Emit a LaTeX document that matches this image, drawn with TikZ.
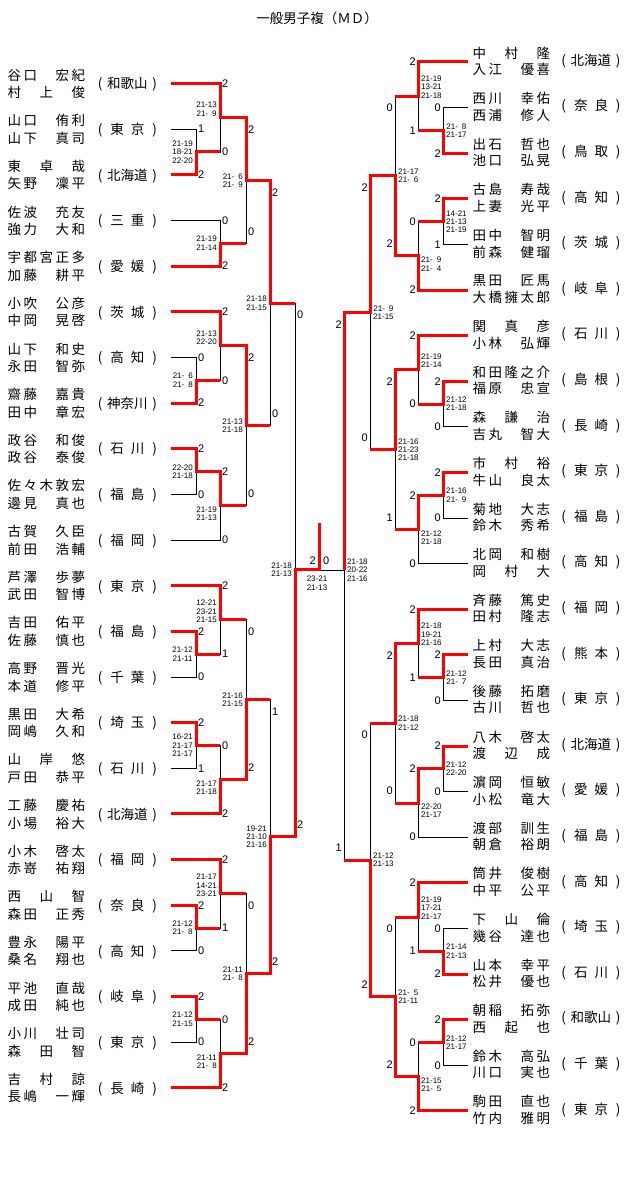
\documentclass[tikz,border=0pt]{standalone}
\usepackage{fontspec}
\newfontfamily\namefont[LetterSpace=18.5]{Noto Sans CJK JP}
\newfontfamily\kanjifont{Noto Sans CJK JP}
\newfontfamily\numfont{Liberation Sans}
\usetikzlibrary{calc}
\newcommand\prefgap{\hspace{7pt}}

\tikzstyle{win} = [draw, red, line width=3pt]
\tikzstyle{lose} = [draw, black, line width=0.9pt]
\tikzstyle{player} = [anchor=west, inner sep=0pt, font=\namefont\fontsize{13.5}{14}\selectfont]
\tikzstyle{pref} = [inner sep=0pt, font=\kanjifont\fontsize{13.5}{14}\selectfont]
\tikzstyle{digit} = [inner sep=0pt, font=\numfont\fontsize{11}{11}\selectfont]
\tikzstyle{games} = [inner sep=0pt, align=center, font=\numfont\fontsize{8}{8.3}\selectfont]

\def\leftplayers{谷口　宏紀/村　上　俊/和歌山, 山口　侑利/山下　真司/東\prefgap 京, 東　卓　哉/矢野　凜平/北海道, 佐波　充友/強力　大和/三\prefgap 重, 宇都宮正多/加藤　耕平/愛\prefgap 媛, 小吹　公彦/中岡　晃啓/茨\prefgap 城, 山下　和史/永田　智弥/高\prefgap 知, 齋藤　嘉貴/田中　章宏/神奈川, 政谷　和俊/政谷　泰俊/石\prefgap 川, 佐々木敦宏/邊見　真也/福\prefgap 島, 古賀　久臣/前田　浩輔/福\prefgap 岡, 芦澤　歩夢/武田　智博/東\prefgap 京, 吉田　佑平/佐藤　慎也/福\prefgap 島, 高野　晋光/本道　修平/千\prefgap 葉, 黒田　大希/岡嶋　久和/埼\prefgap 玉, 山　岸　悠/戸田　恭平/石\prefgap 川, 工藤　慶祐/小場　裕大/北海道, 小木　啓太/赤嵜　祐翔/福\prefgap 岡, 西　山　智/森田　正秀/奈\prefgap 良, 豊永　陽平/桑名　翔也/高\prefgap 知, 平池　直哉/成田　純也/岐\prefgap 阜, 小川　壮司/森　田　智/東\prefgap 京, 吉　村　諒/長嶋　一輝/長\prefgap 崎}
\def\rightplayers{中　村　隆/入江　優喜/北海道, 西川　幸佑/西浦　修人/奈\prefgap 良, 出石　哲也/池口　弘晃/鳥\prefgap 取, 古島　寿哉/上妻　光平/高\prefgap 知, 田中　智明/前森　健瑠/茨\prefgap 城, 黒田　匠馬/大橋擁太郎/岐\prefgap 阜, 関　真　彦/小林　弘輝/石\prefgap 川, 和田隆之介/福原　忠宣/島\prefgap 根, 森　謙　治/吉丸　智大/長\prefgap 崎, 市　村　裕/牛山　良太/東\prefgap 京, 菊地　大志/鈴木　秀希/福\prefgap 島, 北岡　和樹/岡　村　大/高\prefgap 知, 斉藤　篤史/田村　隆志/福\prefgap 岡, 上村　大志/長田　真治/熊\prefgap 本, 後藤　拓磨/古川　哲也/東\prefgap 京, 八木　啓太/渡　辺　成/北海道, 濵岡　恒敏/小松　竜大/愛\prefgap 媛, 渡部　訓生/朝倉　裕朗/福\prefgap 島, 筒井　俊樹/中平　公平/高\prefgap 知, 下　山　倫/幾谷　達也/埼\prefgap 玉, 山本　幸平/松井　優也/石\prefgap 川, 朝稲　拓弥/西　起　也/和歌山, 鈴木　高弘/川口　実也/千\prefgap 葉, 駒田　直也/竹内　雅明/東\prefgap 京}

% match / column / top / bottom / top score / bottom score / next match / label shift / digit shift / games
\def\leftmatches{A1/lc1/L1/L2/1/2/A2/0/0/{21-19\\18-21\\22-20}, A2/lc2/L0/A1/2/0/AB/-8.5/0/{21-13\\21-\enspace9}, B1/lc2/L3/L4/0/2/AB/0/0/{21-19\\21-14}, AB/lc3/A2/B1/2/0/Q1/0/12/{21-\enspace6\\21-\enspace9}, C1/lc1/L6/L7/0/2/C2/0/0/{21-\enspace6\\21-\enspace8}, C2/lc2/L5/C1/2/0/CD/-8.5/0/{21-13\\22-20}, D1/lc1/L8/L9/2/0/D2/0/0/{22-20\\21-18}, D2/lc2/D1/L10/2/0/CD/8/0/{21-19\\21-13}, CD/lc3/C2/D2/2/0/Q1/0/12/{21-13\\21-18}, Q1/lc4/AB/CD/2/0/SL/0/12/{21-18\\21-15}, E1/lc1/L12/L13/2/0/E2/0/0/{21-12\\21-11}, E2/lc2/L11/E1/2/1/EF/-8.5/0/{12-21\\23-21\\21-15}, F1/lc1/L14/L15/2/1/F2/0/0/{16-21\\21-17\\21-17}, F2/lc2/F1/L16/0/2/EF/8/0/{21-17\\21-18}, EF/lc3/E2/F2/0/2/Q2/0/12/{21-16\\21-15}, G1/lc1/L18/L19/2/0/G2/0/0/{21-12\\21-\enspace8}, G2/lc2/L17/G1/2/1/GH/-8.5/0/{21-17\\14-21\\23-21}, H1/lc1/L20/L21/2/0/H2/0/0/{21-12\\21-15}, H2/lc2/H1/L22/0/2/GH/8/0/{21-11\\21-\enspace8}, GH/lc3/G2/H2/0/2/Q2/0/12/{21-11\\21-\enspace8}, Q2/lc4/EF/GH/1/2/SL/0/12/{19-21\\21-10\\21-16}, SL/lc5/Q1/Q2/0/2/F/0/12/{21-18\\21-13}}
\def\rightmatches{a1/rc1/R1/R2/0/2/a2/0/0/{21-\enspace8\\21-17}, a2/rc2/R0/a1/2/1/ab/-9/0/{21-19\\13-21\\21-18}, b1/rc1/R3/R4/2/1/b2/0/0/{14-21\\21-13\\21-19}, b2/rc2/b1/R5/0/2/ab/8.5/0/{21-\enspace9\\21-\enspace4}, ab/rc3/a2/b2/0/2/q1/0/12/{21-17\\21-\enspace6}, c1/rc1/R7/R8/2/0/c2/0/0/{21-12\\21-18}, c2/rc2/R6/c1/2/0/cd/-9/0/{21-19\\21-14}, d1/rc1/R9/R10/2/0/d2/0/0/{21-16\\21-\enspace9}, d2/rc2/d1/R11/2/0/cd/8/0/{21-12\\21-18}, cd/rc3/c2/d2/2/1/q1/0/12/{21-16\\21-23\\21-18}, q1/rc4/ab/cd/2/0/SR/0/12/{21-\enspace9\\21-15}, e1/rc1/R13/R14/2/0/e2/0/0/{21-12\\21-\enspace7}, e2/rc2/R12/e1/2/1/ef/-9/0/{21-18\\19-21\\21-16}, f1/rc1/R15/R16/2/0/f2/0/0/{21-12\\22-20}, f2/rc2/f1/R17/2/0/ef/8/0/{22-20\\21-17}, ef/rc3/e2/f2/2/0/q2/0/12/{21-18\\21-12}, g1/rc1/R19/R20/0/2/g2/0/0/{21-14\\21-13}, g2/rc2/R18/g1/2/1/gh/-9/0/{21-19\\17-21\\21-17}, h1/rc1/R21/R22/2/0/h2/0/0/{21-12\\21-17}, h2/rc2/h1/R23/0/2/gh/8/0/{21-15\\21-\enspace5}, gh/rc3/g2/h2/0/2/q2/0/12/{21-\enspace5\\21-11}, q2/rc4/ef/gh/0/2/SR/0/12/{21-12\\21-13}}

\begin{document}
\begin{tikzpicture}[x=1pt,y=-1pt]
    \path[use as bounding box, fill=white] (0,0) rectangle (640,1201);

    \node[pref] (title) at (317,18) {一般男子複（ＭＤ）};

    % columns of the bracket
    \foreach \x/\name in {196/lc1, 220/lc2, 246/lc3, 270/lc4, 295/lc5, 319/fin, 344/rc5, 370/rc4, 395/rc3, 418/rc2, 443/rc1}
      \coordinate (\name) at (\x,0);

    % the pairs on the left
    \foreach \first/\second/\home [count=\i from 0] in \leftplayers {
      \pgfmathsetmacro\y{83.5+45.65*\i}
      \coordinate (L\i) at (171,\y);
      \node[player] (nL\i a) at (7.5,{\y-8.5}) {\first};
      \node[player] (nL\i b) at (7.5,{\y+9}) {\second};
      \node[pref] (pL\i) at (127.5,{\y+1}) {(\makebox[50pt]{\home})};
    }

    % the pairs on the right
    \foreach \first/\second/\home [count=\i from 0] in \rightplayers {
      \pgfmathsetmacro\y{62+45.6*\i}
      \coordinate (R\i) at (468,\y);
      \node[player] (nR\i a) at (472.5,{\y-9}) {\first};
      \node[player] (nR\i b) at (472.5,{\y+7.5}) {\second};
      \node[pref] (pR\i) at (591,{\y-1}) {(\makebox[50pt]{\home})};
    }

    % where the matches sit
    \foreach \m/\col/\a/\b/\sa/\sb/\up/\dy/\off/\res in \leftmatches {
      \path ($(\a)!.5!(\b)$) coordinate (mid);
      \coordinate (\m) at (mid -| \col);
    }
    \foreach \m/\col/\a/\b/\sa/\sb/\up/\dy/\off/\res in \rightmatches {
      \path ($(\a)!.5!(\b)$) coordinate (mid);
      \coordinate (\m) at (mid -| \col);
    }
    \coordinate (SR) at (SL -| rc5);
    \coordinate (F) at (SL -| fin);
    \coordinate (Ftop) at ([yshift=47pt] F);

    % the losers
    \foreach \m/\col/\a/\b/\sa/\sb/\up/\dy/\off/\res in \leftmatches {
      \ifnum\sa>\sb \def\loser{\b}\else\def\loser{\a}\fi
      \draw[lose] (\loser) -- (\loser -| \m) -- (\m);
    }
    \foreach \m/\col/\a/\b/\sa/\sb/\up/\dy/\off/\res in \rightmatches {
      \ifnum\sa>\sb \def\loser{\b}\else\def\loser{\a}\fi
      \draw[lose] (\loser) -- (\loser -| \m) -- (\m);
    }
    \draw[lose] (q2 -| SR) -- (SR) -- (F);

    % the winners and the scores
    \foreach \m/\col/\a/\b/\sa/\sb/\up/\dy/\off/\res in \leftmatches {
      \ifnum\sa>\sb \def\winner{\a}\else\def\winner{\b}\fi
      \draw[win] (\winner) -- (\winner -| \m) -- (\m) -- (\m -| \up);
      \node[digit, anchor=west] (s\m a) at ([xshift=2pt, yshift={-\off*1pt}] \a -| \m) {\sa};
      \node[digit, anchor=west] (s\m b) at ([xshift=2pt, yshift={\off*1pt}] \b -| \m) {\sb};
      \node[games, anchor=east] (g\m) at ([xshift=-3pt, yshift={-(\dy)*1pt}] \m) {\res};
    }
    \foreach \m/\col/\a/\b/\sa/\sb/\up/\dy/\off/\res in \rightmatches {
      \ifnum\sa>\sb \def\winner{\a}\else\def\winner{\b}\fi
      \draw[win] (\winner) -- (\winner -| \m) -- (\m) -- (\m -| \up);
      \node[digit, anchor=east] (s\m a) at ([xshift=-2pt, yshift={-\off*1pt}] \a -| \m) {\sa};
      \node[digit, anchor=east] (s\m b) at ([xshift=-2pt, yshift={\off*1pt}] \b -| \m) {\sb};
      \node[games, anchor=west] (g\m) at ([xshift=3pt, yshift={-(\dy)*1pt}] \m) {\res};
    }

    % the right semifinal and the final
    \draw[win] (q1) -- (q1 -| SR) -- (SR);
    \node[digit, anchor=east] (sSRa) at ([xshift=-2pt, yshift=-12pt] q1 -| SR) {2};
    \node[digit, anchor=east] (sSRb) at ([xshift=-2pt, yshift=12pt] q2 -| SR) {1};
    \node[games, anchor=west] (gSR) at ([xshift=3pt] SR) {21-18\\20-22\\21-16};
    \draw[win] (SL) -- (F) -- (Ftop);
    \node[digit, anchor=east] (sFa) at ([xshift=-3pt, yshift=9pt] F) {2};
    \node[digit, anchor=west] (sFb) at ([xshift=4pt, yshift=9pt] F) {0};
    \node[games, anchor=north] (gF) at ([xshift=-2pt, yshift=-6pt] F) {23-21\\21-13};

\end{tikzpicture}
\end{document}
